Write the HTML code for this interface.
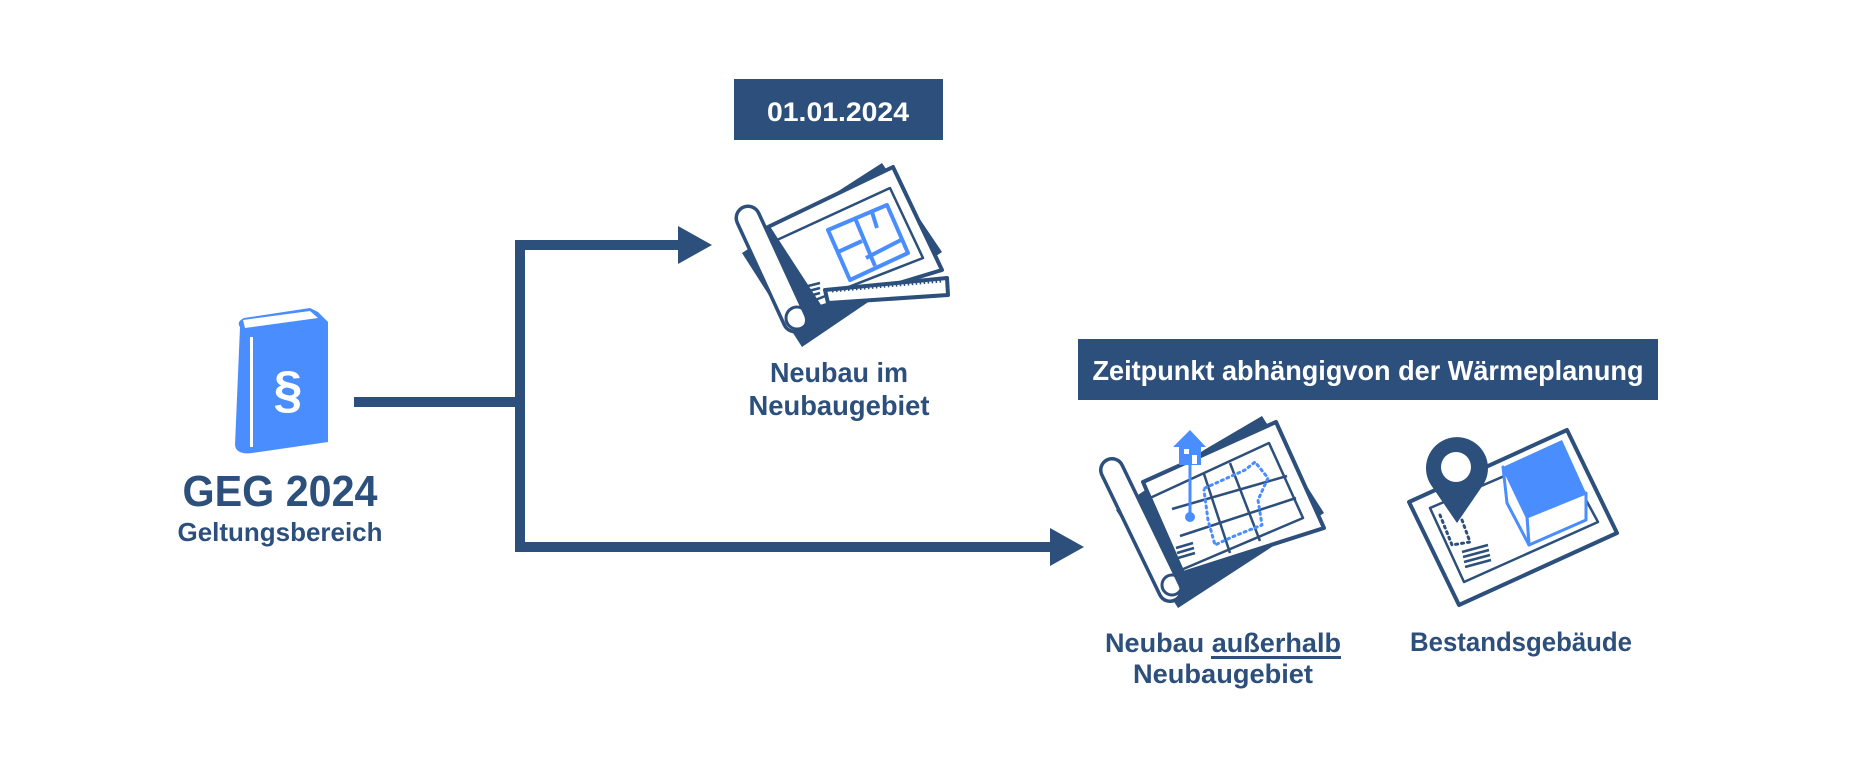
<!DOCTYPE html>
<html><head><meta charset="utf-8"><style>
html,body{margin:0;padding:0;background:#fff;}
svg{display:block;}
text{font-family:"Liberation Sans",sans-serif;font-weight:bold;}
</style></head><body>
<svg width="1855" height="762" viewBox="0 0 1855 762" xmlns="http://www.w3.org/2000/svg">
<defs></defs>
<!-- connectors -->
<g fill="#2c4f7c">
<rect x="354" y="397" width="171" height="10"/>
<rect x="515" y="240" width="10" height="312"/>
<rect x="515" y="240" width="165" height="10"/>
<polygon points="678,226 712,245 678,264"/>
<rect x="515" y="542" width="537" height="10"/>
<polygon points="1050,528 1084,547 1050,566"/>
</g>

<!-- book -->
<g>
<path d="M240,327 Q236,322 244,318 L310,308 L318,312 L328,322 L328,442 L252,453 Q236,455 235,445 Z" fill="#4a8dff"/>
<path d="M243,320 L310,311 L318,318 L245,328 Z" fill="#fff"/>
<rect x="250" y="337" width="3" height="110" fill="#fff"/>
<text x="288" y="407" font-size="52" fill="#fff" text-anchor="middle" font-weight="normal">§</text>
</g>
<text x="280" y="506" font-size="44" fill="#2c4f7c" text-anchor="middle" textLength="195" lengthAdjust="spacingAndGlyphs">GEG 2024</text>
<text x="280" y="541" font-size="26" fill="#2c4f7c" text-anchor="middle" textLength="205" lengthAdjust="spacingAndGlyphs">Geltungsbereich</text>

<!-- date box -->
<rect x="734" y="79" width="209" height="61" fill="#2c4f7c"/>
<text x="838" y="121" font-size="27" fill="#fff" text-anchor="middle" textLength="142" lengthAdjust="spacingAndGlyphs">01.01.2024</text>

<!-- icon 1 -->
<g stroke-linejoin="round">
<polygon points="742,253 882,163 942,252 802,347" fill="#2c4f7c"/>
<polygon points="768,227 893,167 942,270 820,307" fill="#fff" stroke="#2c4f7c" stroke-width="4"/>
<polygon points="777,240 890,188 923,258 810,302" fill="none" stroke="#2c4f7c" stroke-width="2.5"/>
<polygon points="828,230 887,205 908,253 850,280" fill="none" stroke="#4a8dff" stroke-width="4"/>
<line x1="855" y1="218" x2="875" y2="266" stroke="#4a8dff" stroke-width="4"/>
<line x1="838" y1="252" x2="862" y2="241" stroke="#4a8dff" stroke-width="4"/>
<line x1="866" y1="258" x2="901" y2="240" stroke="#4a8dff" stroke-width="4"/>
<line x1="872" y1="212" x2="877" y2="228" stroke="#4a8dff" stroke-width="4"/>
<line x1="748" y1="218" x2="795" y2="320" stroke="#2c4f7c" stroke-width="27" stroke-linecap="round"/>
<line x1="748" y1="218" x2="795" y2="320" stroke="#fff" stroke-width="20" stroke-linecap="round"/>
<circle cx="797" cy="318" r="11" fill="none" stroke="#2c4f7c" stroke-width="3"/>
<g stroke="#2c4f7c" stroke-width="2.5">
<line x1="800" y1="288" x2="820" y2="283"/><line x1="801" y1="293" x2="820" y2="288"/><line x1="802" y1="298" x2="820" y2="293"/>
</g>
<polygon points="825,290 947,278 948,295 828,303" fill="#fff" stroke="#2c4f7c" stroke-width="4"/>
<line x1="832" y1="291" x2="942" y2="281" stroke="#2c4f7c" stroke-width="3" stroke-dasharray="1.5 2.5"/>
</g>
<text x="839" y="382" font-size="28" fill="#2c4f7c" text-anchor="middle" textLength="138" lengthAdjust="spacingAndGlyphs">Neubau im</text>
<text x="839" y="415" font-size="28" fill="#2c4f7c" text-anchor="middle" textLength="181" lengthAdjust="spacingAndGlyphs">Neubaugebiet</text>

<!-- Zeitpunkt box -->
<rect x="1078" y="339" width="580" height="61" fill="#2c4f7c"/>
<text x="1368" y="380" font-size="28" fill="#fff" text-anchor="middle" textLength="551" lengthAdjust="spacingAndGlyphs">Zeitpunkt abhängigvon der Wärmeplanung</text>

<!-- icon 2 -->
<g stroke-linejoin="round">
<polygon points="1204,450 1262,416 1324,513 1178,608 1116,510" fill="#2c4f7c"/>
<polygon points="1143,482 1276,422 1324,528 1183,573" fill="#fff" stroke="#2c4f7c" stroke-width="4"/>
<g stroke="#2c4f7c" stroke-width="2.5" fill="none">
<polygon points="1150,498 1269,443 1303,518 1181,570"/>
<line x1="1172" y1="509" x2="1287" y2="476"/>
<line x1="1180" y1="536" x2="1296" y2="498"/>
<line x1="1204" y1="474" x2="1230" y2="553"/>
<line x1="1230" y1="463" x2="1260" y2="541"/>
</g>
<polyline points="1205,488 1245,470 1255,462 1268,478 1258,500 1262,525 1232,537 1215,545 1208,520 1204,490" fill="none" stroke="#4a8dff" stroke-width="3" stroke-dasharray="2 4" stroke-linecap="round"/>
<line x1="1112" y1="470" x2="1170" y2="590" stroke="#2c4f7c" stroke-width="26" stroke-linecap="round"/>
<line x1="1112" y1="470" x2="1170" y2="590" stroke="#fff" stroke-width="19" stroke-linecap="round"/>
<circle cx="1172" cy="585" r="10" fill="none" stroke="#2c4f7c" stroke-width="3"/>
<g stroke="#2c4f7c" stroke-width="2.5">
<line x1="1176" y1="548" x2="1193" y2="543"/><line x1="1177" y1="553" x2="1194" y2="548"/><line x1="1178" y1="558" x2="1195" y2="553"/>
</g>
<polygon points="1173,447 1190,430 1206,447 1201,447 1201,465 1179,465 1179,447" fill="#4a8dff"/>
<rect x="1184" y="449" width="5" height="5" fill="#fff"/>
<rect x="1192" y="455" width="5" height="9" fill="#fff"/>
<line x1="1190" y1="465" x2="1190" y2="515" stroke="#4a8dff" stroke-width="3"/>
<circle cx="1190" cy="517" r="5" fill="#4a8dff"/>
</g>
<text x="1223" y="652" font-size="27" fill="#2c4f7c" text-anchor="middle" textLength="236" lengthAdjust="spacingAndGlyphs">Neubau außerhalb</text>
<rect x="1211" y="656" width="130" height="3" fill="#2c4f7c"/>
<text x="1223" y="683" font-size="27" fill="#2c4f7c" text-anchor="middle" textLength="180" lengthAdjust="spacingAndGlyphs">Neubaugebiet</text>

<!-- icon 3 -->
<g stroke-linejoin="round">
<polygon points="1409,502 1567,430 1617,533 1459,605" fill="#fff" stroke="#2c4f7c" stroke-width="4"/>
<polygon points="1430,508 1560,452 1598,522 1464,582" fill="none" stroke="#2c4f7c" stroke-width="2.5"/>
<polyline points="1440,515 1452,545 1470,542 1462,520" fill="none" stroke="#2c4f7c" stroke-width="3" stroke-dasharray="2 4" stroke-linecap="round"/>
<g stroke="#2c4f7c" stroke-width="2.5">
<line x1="1462" y1="552" x2="1488" y2="545"/><line x1="1463" y1="557" x2="1489" y2="550"/><line x1="1464" y1="562" x2="1490" y2="555"/><line x1="1465" y1="567" x2="1491" y2="560"/>
</g>
<path d="M1457,523 L1431,485 A31,31 0 1 1 1483,485 Z" fill="#2c4f7c"/>
<circle cx="1456" cy="467" r="15" fill="#fff"/>
<polygon points="1503,467 1562,440 1586,493 1527,517" fill="#4a8dff"/>
<polygon points="1527,517 1586,493 1586,520 1529,545" fill="#fff" stroke="#4a8dff" stroke-width="3"/>
<polygon points="1503,467 1527,517 1529,545 1507,503" fill="#fff" stroke="#4a8dff" stroke-width="3"/>
</g>
<text x="1521" y="651" font-size="27" fill="#2c4f7c" text-anchor="middle" textLength="222" lengthAdjust="spacingAndGlyphs">Bestandsgebäude</text>
</svg>
</body></html>
